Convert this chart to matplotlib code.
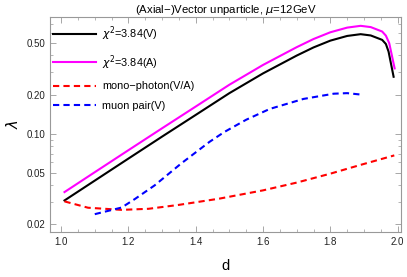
import matplotlib
matplotlib.use('Agg')
import matplotlib.pyplot as plt
from matplotlib.ticker import FixedLocator, FixedFormatter, LogLocator, NullFormatter, MultipleLocator

plt.rcParams['font.family'] = ['Liberation Sans', 'DejaVu Sans']

# chi^2 = 3.84 (V)
d_v = [1.01, 1.10, 1.20, 1.30, 1.40, 1.50, 1.60, 1.70, 1.75, 1.80, 1.85, 1.89, 1.92, 1.954, 1.965, 1.973, 1.988]
lam_v = [0.0306, 0.0435, 0.0643, 0.0949, 0.1394, 0.205, 0.291, 0.399, 0.461, 0.520, 0.565, 0.583, 0.570, 0.527, 0.490, 0.428, 0.274]

# chi^2 = 3.84 (A)
d_a = [1.01, 1.10, 1.20, 1.30, 1.40, 1.50, 1.60, 1.70, 1.75, 1.80, 1.85, 1.89, 1.92, 1.954, 1.965, 1.975, 1.991]
lam_a = [0.0355, 0.0505, 0.0746, 0.110, 0.1617, 0.238, 0.338, 0.463, 0.535, 0.603, 0.655, 0.676, 0.661, 0.611, 0.568, 0.497, 0.318]

# mono-photon (V/A)
d_mono = [1.01, 1.08, 1.18, 1.26, 1.35, 1.47, 1.60, 1.70, 1.80, 1.89, 1.99]
lam_mono = [0.0301, 0.0269, 0.0259, 0.0264, 0.0283, 0.0316, 0.0366, 0.0420, 0.0492, 0.0575, 0.068]

# muon pair (V)
d_mu = [1.10, 1.18, 1.22, 1.278, 1.357, 1.441, 1.485, 1.55, 1.62, 1.72, 1.81, 1.85, 1.89]
lam_mu = [0.024, 0.027, 0.0315, 0.040, 0.059, 0.0865, 0.103, 0.128, 0.155, 0.185, 0.203, 0.205, 0.200]

fig = plt.figure(figsize=(4.07, 2.77), dpi=100)
ax = fig.add_axes([0.1229, 0.1625, 0.8624, 0.776])

ax.plot(d_v, lam_v, color='black', lw=1.5, label=r'$\chi^2$=3.84(V)')
ax.plot(d_a, lam_a, color='#ff00ff', lw=1.5, label=r'$\chi^2$=3.84(A)')
ax.plot(d_mono, lam_mono, color='red', lw=1.5, ls=(0, (3, 2)), label='mono\u2212photon(V/A)')
ax.plot(d_mu, lam_mu, color='blue', lw=1.5, ls=(0, (3, 2)), label='muon pair(V)')

ax.set_yscale('log')
ax.set_xlim(0.967, 2.01)
ax.set_ylim(0.0175, 0.79)

ax.xaxis.set_major_locator(MultipleLocator(0.2))
ax.xaxis.set_minor_locator(MultipleLocator(0.05))
ax.xaxis.set_major_formatter(plt.FuncFormatter(lambda v, p: '%.1f' % v))

yt = [0.02, 0.05, 0.10, 0.20, 0.50]
ax.yaxis.set_major_locator(FixedLocator(yt))
ax.yaxis.set_major_formatter(FixedFormatter(['%.2f' % v for v in yt]))
ax.yaxis.set_minor_locator(LogLocator(base=10, subs=[1, 2, 3, 4, 5, 6, 7, 8, 9]))
ax.yaxis.set_minor_formatter(NullFormatter())

ax.tick_params(which='both', direction='in', top=True, right=True, color='#999999',
               labelsize=7, labelcolor='#222222')
ax.tick_params(which='major', length=4, width=0.6)
ax.tick_params(which='minor', length=2, width=0.5)
for s in ax.spines.values():
    s.set_color('#999999')
    s.set_linewidth(0.8)

ax.set_title('(Axial\u2212)Vector unparticle, $\\mu$=12GeV', fontsize=8.2, pad=3)
ax.set_xlabel('d', fontsize=10.5, labelpad=9)
ax.set_ylabel('$\\lambda$', fontsize=10.5)

ax.legend(loc='upper left', bbox_to_anchor=(-0.005, 0.985), frameon=False, fontsize=7.8,
          handlelength=4.0, handletextpad=0.55, labelspacing=0.9, borderaxespad=0)

fig.savefig('out.png', dpi=100)
